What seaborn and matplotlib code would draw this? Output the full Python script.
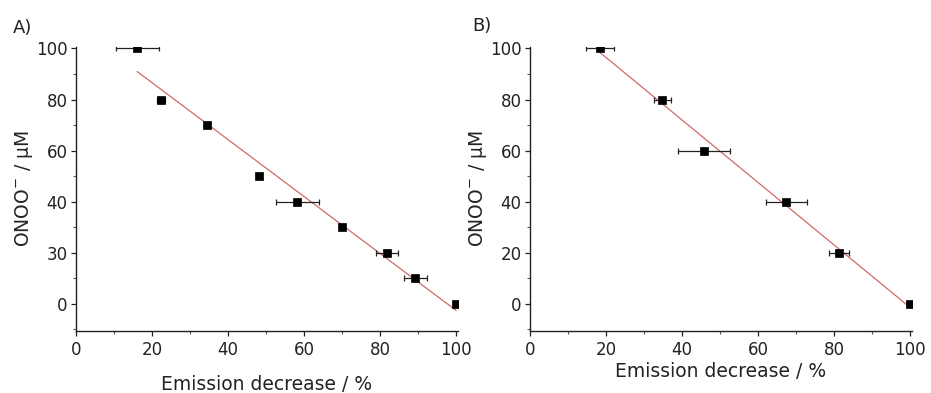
import numpy as np
import pandas as pd
import matplotlib
matplotlib.use("Agg")
import matplotlib.pyplot as plt
import seaborn as sns
from matplotlib.ticker import MultipleLocator

# ---- data ----
a_emission = [16.1, 22.4, 34.4, 48.1, 58.2, 70.0, 81.8, 89.3, 100.0]
a_emission_err = [5.7, 1.0, 0.8, 0.8, 5.7, 0.5, 3.0, 3.1, 0.8]
a_onoo = [100, 80, 70, 50, 40, 30, 20, 10, 0]

b_emission = [18.4, 34.8, 45.8, 67.4, 81.3, 100.0]
b_emission_err = [3.8, 2.2, 6.9, 5.4, 2.7, 0.5]
b_onoo = [100, 80, 60, 40, 20, 0]

x_ticks = [0, 20, 40, 60, 80, 100]
a_y_ticks = [0, 20, 40, 60, 80, 100]
a_y_ticklabels = ["0", "30", "40", "60", "80", "100"]
b_y_ticks = [0, 20, 40, 60, 80, 100]
b_y_ticklabels = ["0", "20", "40", "60", "80", "100"]
panel_labels = ["A)", "B)"]
x_label = "Emission decrease / %"
y_label = "ONOO$^{-}$ / µM"

sns.set_theme(style="ticks")
plt.rcParams["font.family"] = ["DejaVu Sans"]
plt.rcParams["mathtext.default"] = "regular"

fig = plt.figure(figsize=(9.31, 3.93), dpi=100)
axA = fig.add_axes([0.0816, 0.158, 0.410, 0.722])
axB = fig.add_axes([0.5693, 0.158, 0.410, 0.722])

panels = [
    (axA, a_emission, a_emission_err, a_onoo, a_y_ticks, a_y_ticklabels),
    (axB, b_emission, b_emission_err, b_onoo, b_y_ticks, b_y_ticklabels),
]

line_color = "#cf6a6a"
for i, (ax, x, xe, y, yt, ytl) in enumerate(panels):
    df = pd.DataFrame({"x": x, "y": y})
    sns.regplot(data=df, x="x", y="y", ax=ax, ci=None, scatter=False,
                line_kws=dict(color=line_color, lw=0.9))
    ax.errorbar(x, y, xerr=xe, fmt="none", ecolor="#222222", elinewidth=0.9,
                capsize=2.5, capthick=0.9, zorder=3)
    sns.scatterplot(data=df, x="x", y="y", ax=ax, marker="s", s=28,
                    color="black", edgecolor="black", linewidth=0.5, zorder=4)
    ax.set_xlim(0, 100.4)
    ax.set_ylim(-10.6, 100.5)
    ax.set_xticks(x_ticks)
    ax.set_yticks(yt)
    ax.set_yticklabels(ytl)
    ax.xaxis.set_minor_locator(MultipleLocator(10))
    ax.yaxis.set_minor_locator(MultipleLocator(10))
    ax.tick_params(which="major", direction="out", length=3.5, width=0.9,
                   labelsize=12, colors="#222222")
    ax.tick_params(axis="x", which="major", pad=4)
    ax.tick_params(axis="y", which="major", pad=2.5)
    ax.tick_params(which="minor", direction="out", length=2.2, width=0.8,
                   colors="#555555")
    for s in ["top", "right"]:
        ax.spines[s].set_visible(False)
    for s in ["left", "bottom"]:
        ax.spines[s].set_linewidth(1.0)
        ax.spines[s].set_color("#222222")
    ax.set_xlabel(x_label, fontsize=13.5, color="#222222",
                  labelpad=11 if i == 0 else 2)
    ax.set_ylabel(y_label, fontsize=13.5, color="#222222", labelpad=1)

fig.text(13 / 931, 1 - 19 / 393, panel_labels[0], fontsize=13, va="top", ha="left", color="#222222")
fig.text(472 / 931, 1 - 17 / 393, panel_labels[1], fontsize=13, va="top", ha="left", color="#222222")

fig.savefig("out.png", dpi=100, facecolor="white")
